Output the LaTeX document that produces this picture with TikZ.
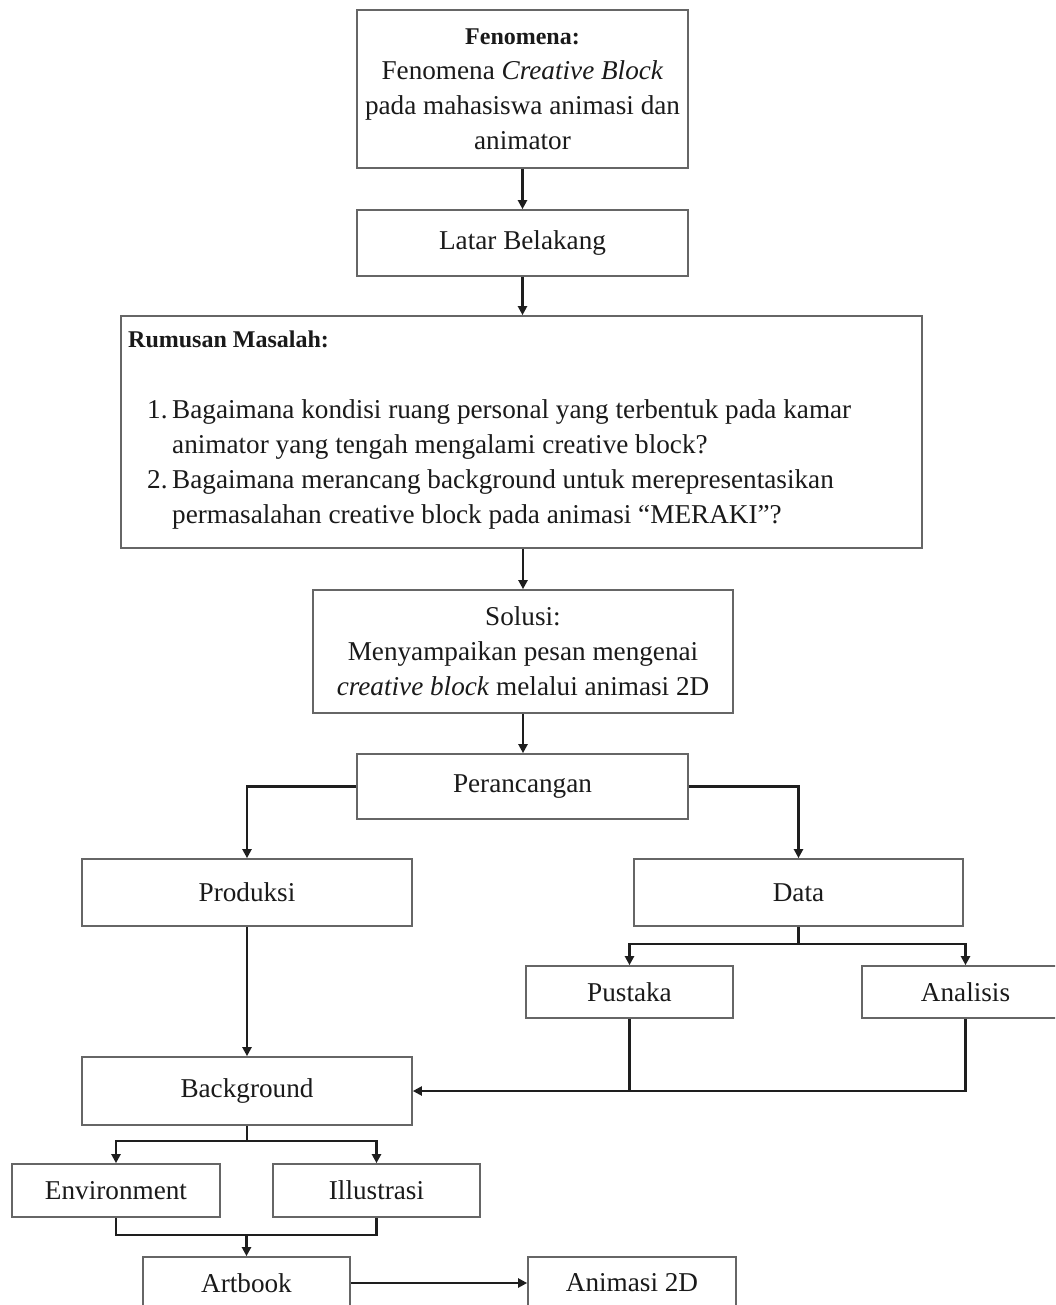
\documentclass[tikz,border=0pt]{standalone}
\usepackage{fontspec}
\setmainfont{Liberation Serif}
\usetikzlibrary{arrows.meta,calc}
\definecolor{boxgray}{HTML}{666666}
\definecolor{lnk}{HTML}{1E1E1E}
\definecolor{txt}{HTML}{1A1A1A}
\newcommand{\mfs}{\fontsize{27.2}{35}\selectfont}
\newcommand{\hfs}{\fontsize{24}{35}\selectfont}
\begin{document}
\begin{tikzpicture}[x=1pt,y=-1pt,
 box/.style={draw=boxgray,line width=1.7pt,inner sep=0pt,align=center,font=\mfs,text=txt},
 ln/.style={draw=lnk,line width=2.2pt},
 arr/.style={ln,-{Triangle[length=9pt,width=9pt]}}]
\useasboundingbox (0,0) rectangle (1055,1305);
\clip (0,0) rectangle (1055,1305);
\fill[white] (0,0) rectangle (1055,1305);

\node[box,minimum width=331pt,minimum height=158pt] (fen) at (522.5,89) {{\hfs\textbf{Fenomena:}}\\Fenomena \textit{Creative Block}\\pada mahasiswa animasi dan\\animator};
\node[box,minimum width=331pt,minimum height=66pt] (lb) at (522.5,243) {Latar Belakang};
\node[box,minimum width=801pt,minimum height=232pt] (rm) at (521.5,432) {};
\node[anchor=north west,inner sep=0pt,align=left,font=\mfs,text=txt] (rmt) at (128,331) {{\hfs\textbf{Rumusan Masalah:}}\\[36pt]\hspace*{19pt}\makebox[25pt][l]{1.}Bagaimana kondisi ruang personal yang terbentuk pada kamar\\\hspace*{44pt}animator yang tengah mengalami creative block?\\\hspace*{19pt}\makebox[25pt][l]{2.}Bagaimana merancang background untuk merepresentasikan\\\hspace*{44pt}permasalahan creative block pada animasi “MERAKI”?};
\node[box,minimum width=420pt,minimum height=123pt] (sol) at (523,651.5) {Solusi:\\Menyampaikan pesan mengenai\\\textit{creative block} melalui animasi 2D};
\node[box,minimum width=331pt,minimum height=65pt] (per) at (522.5,786.5) {Perancangan};
\node[box,minimum width=330pt,minimum height=67pt] (prod) at (247,892.5) {Produksi};
\node[box,minimum width=329pt,minimum height=67pt] (data) at (798.5,892.5) {Data};
\node[box,minimum width=207pt,minimum height=52pt] (pus) at (629.5,992) {Pustaka};
\node[box,minimum width=207pt,minimum height=52pt] (ana) at (965.5,992) {Analisis};
\node[box,minimum width=330pt,minimum height=68pt] (bg) at (247,1091) {Background};
\node[box,minimum width=208pt,minimum height=53pt] (env) at (116,1190.5) {Environment};
\node[box,minimum width=207pt,minimum height=53pt] (ill) at (376.5,1190.5) {Illustrasi};
\node[box,minimum width=207pt,minimum height=52pt] (art) at (246.5,1283) {Artbook};
\node[box,minimum width=208pt,minimum height=52pt] (ani) at (632,1283) {Animasi 2D};

\draw[arr] (fen.south) -- (lb.north);
\draw[arr] (lb.south) -- (lb.south |- rm.north);
\draw[arr] (sol.north |- rm.south) -- (sol.north);
\draw[arr] (sol.south) -- (sol.south |- per.north);
\draw[arr] (per.west) -| (prod.north);
\draw[arr] (per.east) -| (data.north);
\draw[ln] (data.south) -- ++(0,17) coordinate (dj);
\draw[arr] (dj) -| (pus.north);
\draw[arr] (dj) -| (ana.north);
\draw[ln] (pus.south) -- (pus.south |- bg.east);
\draw[arr] (ana.south) |- (bg.east);
\draw[arr] (prod.south) -- (bg.north);
\draw[ln] (bg.south) -- ++(0,15) coordinate (bj);
\draw[arr] (bj) -| (env.north);
\draw[arr] (bj) -| (ill.north);
\draw[ln] (env.south) -- ++(0,17) coordinate (ej) -| (ill.south);
\draw[arr] (ej -| art.north) -- (art.north);
\draw[arr] (art.east) -- (ani.west);
\end{tikzpicture}
\end{document}
